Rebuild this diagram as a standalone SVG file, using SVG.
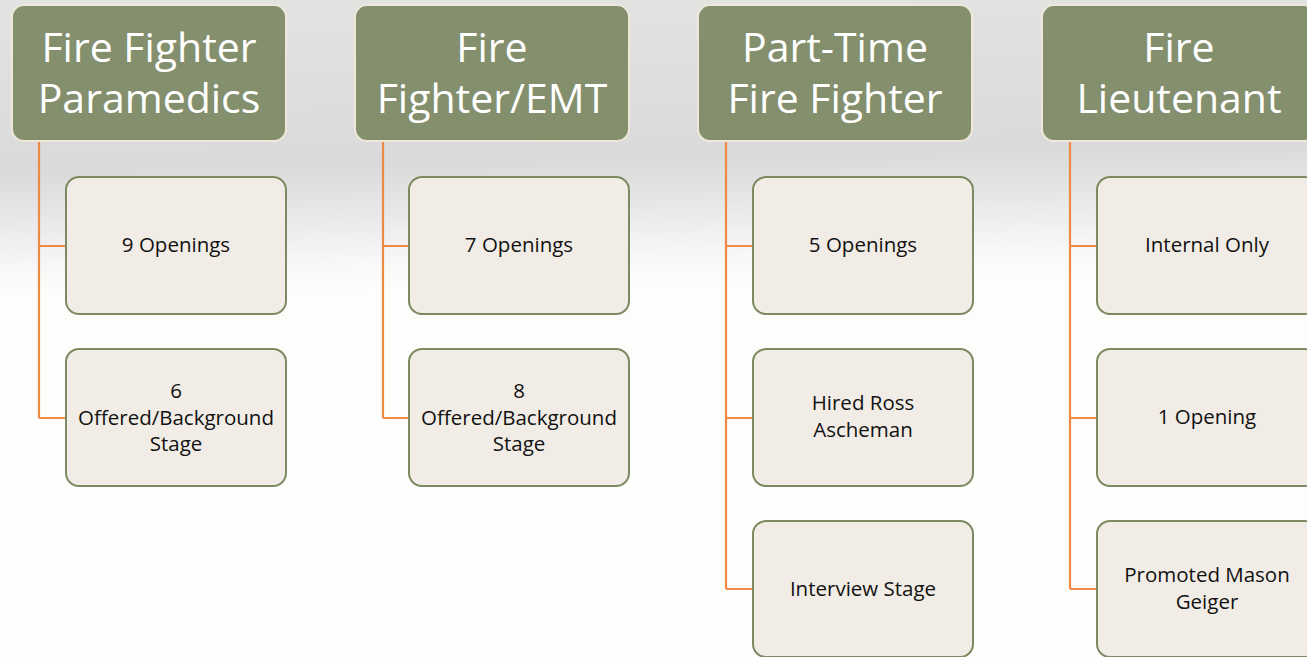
<svg xmlns="http://www.w3.org/2000/svg" width="1307" height="657" viewBox="0 0 1307 657">
<defs>
<linearGradient id="bg" x1="0" y1="0" x2="0.04" y2="1">
<stop offset="0" stop-color="#e3e3e2"/>
<stop offset="0.26" stop-color="#dadada"/>
<stop offset="0.33" stop-color="#e7e7e7"/>
<stop offset="0.41" stop-color="#f8f8f8"/>
<stop offset="0.45" stop-color="#fdfdfb"/>
<stop offset="1" stop-color="#fdfdfb"/>
</linearGradient>
<style>
.hdr{fill:#848f6e;stroke:#efe8da;stroke-width:2}
.ht{font-family:"Open Sans","Noto Sans",sans-serif;font-size:41px;fill:#ffffff;text-anchor:middle}
.box{fill:#f1ede6;stroke:#7d8a61;stroke-width:2}
.bt{font-family:"Open Sans","Noto Sans",sans-serif;font-size:20.5px;fill:#111111;text-anchor:middle}
.con{fill:none;stroke:#ef8944;stroke-width:2.2}
</style>
</defs>
<rect width="1307" height="657" fill="url(#bg)"/>
<g id="connectors">
<path class="con" d="M39 142V418M39 246H66M39 418H66"/>
<path class="con" d="M383 142V418M383 246H409M383 418H409"/>
<path class="con" d="M726 142V589M726 246H753M726 418H753M726 589H753"/>
<path class="con" d="M1070 142V589M1070 246H1097M1070 418H1097M1070 589H1097"/>
</g>
<g id="h1"><rect class="hdr" x="12" y="5" width="274" height="136" rx="12"/><text class="ht" x="149" y="62">Fire Fighter</text><text class="ht" x="149" y="113">Paramedics</text></g>
<g id="h2"><rect class="hdr" x="355" y="5" width="274" height="136" rx="12"/><text class="ht" x="492" y="62">Fire</text><text class="ht" x="492" y="113">Fighter/EMT</text></g>
<g id="h3"><rect class="hdr" x="698" y="5" width="274" height="136" rx="12"/><text class="ht" x="835" y="62">Part-Time</text><text class="ht" x="835" y="113">Fire Fighter</text></g>
<g id="h4"><rect class="hdr" x="1042" y="5" width="274" height="136" rx="12"/><text class="ht" x="1179" y="62">Fire</text><text class="ht" x="1179" y="113">Lieutenant</text></g>
<g id="c1a"><rect class="box" x="66" y="177" width="220" height="137" rx="13"/><text class="bt" x="176" y="252">9 Openings</text></g>
<g id="c1b"><rect class="box" x="66" y="349" width="220" height="137" rx="13"/><text class="bt" x="176" y="398">6</text><text class="bt" x="176" y="424.5">Offered/Background</text><text class="bt" x="176" y="451">Stage</text></g>
<g id="c2a"><rect class="box" x="409" y="177" width="220" height="137" rx="13"/><text class="bt" x="519" y="252">7 Openings</text></g>
<g id="c2b"><rect class="box" x="409" y="349" width="220" height="137" rx="13"/><text class="bt" x="519" y="398">8</text><text class="bt" x="519" y="424.5">Offered/Background</text><text class="bt" x="519" y="451">Stage</text></g>
<g id="c3a"><rect class="box" x="753" y="177" width="220" height="137" rx="13"/><text class="bt" x="863" y="252">5 Openings</text></g>
<g id="c3b"><rect class="box" x="753" y="349" width="220" height="137" rx="13"/><text class="bt" x="863" y="410">Hired Ross</text><text class="bt" x="863" y="437">Ascheman</text></g>
<g id="c3c"><rect class="box" x="753" y="521" width="220" height="136" rx="13"/><text class="bt" x="863" y="596">Interview Stage</text></g>
<g id="c4a"><rect class="box" x="1097" y="177" width="220" height="137" rx="13"/><text class="bt" x="1207" y="252">Internal Only</text></g>
<g id="c4b"><rect class="box" x="1097" y="349" width="220" height="137" rx="13"/><text class="bt" x="1207" y="424">1 Opening</text></g>
<g id="c4c"><rect class="box" x="1097" y="521" width="220" height="136" rx="13"/><text class="bt" x="1207" y="582">Promoted Mason</text><text class="bt" x="1207" y="609">Geiger</text></g>
</svg>
